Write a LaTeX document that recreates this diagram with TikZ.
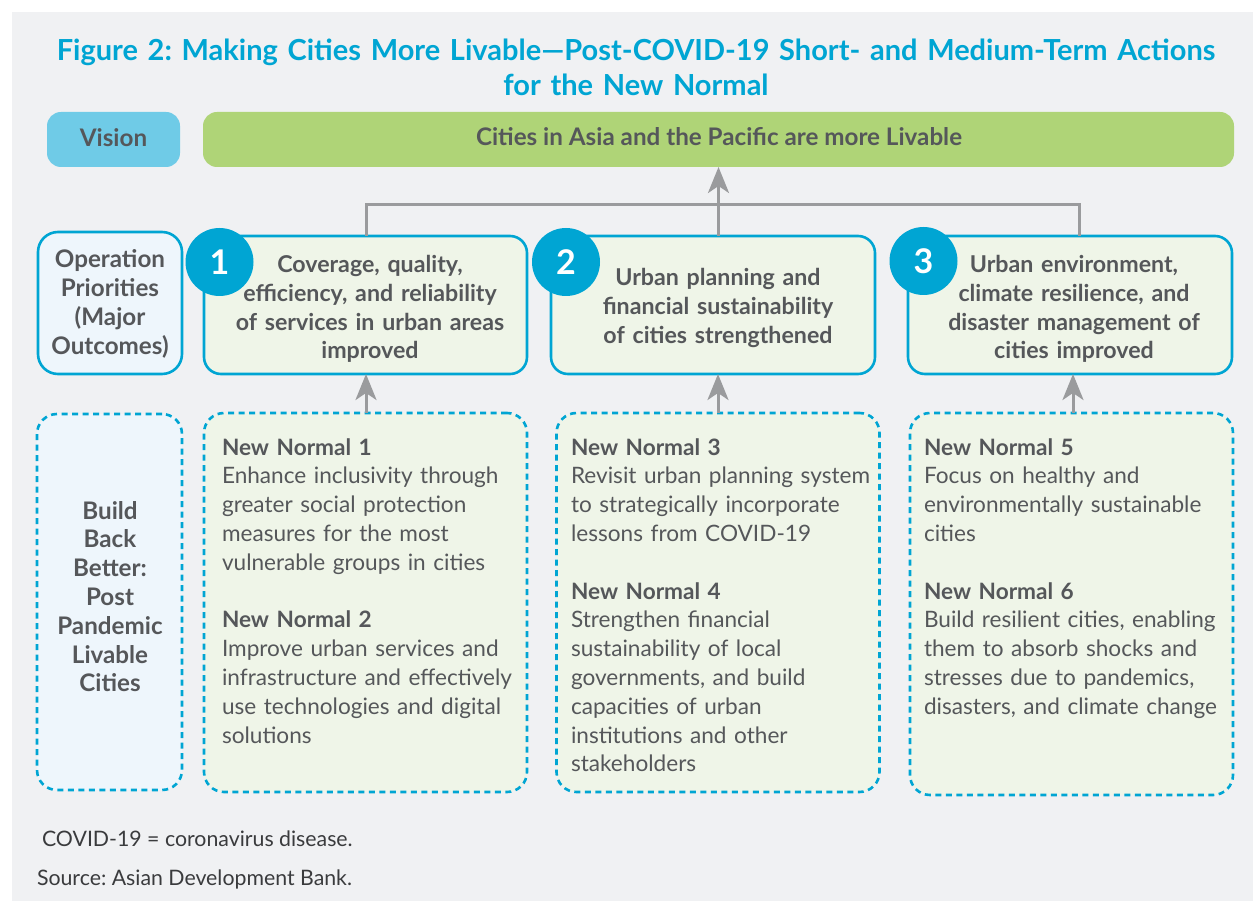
\documentclass[tikz,border=0pt]{standalone}
\usepackage{fontspec}
\setmainfont{Lato}
\usetikzlibrary{arrows.meta,calc}
\frenchspacing

\definecolor{pagegray}{HTML}{F0F1F3}
\definecolor{brandcyan}{HTML}{00A5D3}
\definecolor{visionfill}{HTML}{6FCBE7}
\definecolor{goalgreen}{HTML}{AFD477}
\definecolor{palegreen}{HTML}{EFF5E8}
\definecolor{paleblue}{HTML}{EEF6FC}
\definecolor{linkgray}{HTML}{9A9B9D}
\definecolor{inkgray}{HTML}{55575A}
\definecolor{notegray}{HTML}{3A3B3D}

\begin{document}
\begin{tikzpicture}[x=1pt,y=-1pt,
  every node/.style={inner sep=0pt, outer sep=0pt},
  pill/.style={rounded corners=14pt, minimum height=55pt},
  solidbox/.style={draw=brandcyan, line width=2.6pt, rounded corners=17pt, fill=palegreen},
  sidebox/.style={draw=brandcyan, line width=2.6pt, rounded corners=20pt, fill=paleblue},
  dotbox/.style={draw=brandcyan, line width=2.6pt, dash pattern=on 6pt off 4.5pt, rounded corners=20pt},
  numdisc/.style={circle, fill=brandcyan, minimum size=68pt, text=white,
    font=\fontsize{34}{34}\selectfont\bfseries},
  headtext/.style={text=inkgray, font=\fontsize{24.2}{28.8}\selectfont\bfseries, align=center, anchor=base},
  boxtext/.style={headtext, font=\fontsize{23.2}{28.6}\selectfont\bfseries},
  bodytext/.style={text=inkgray, font=\fontsize{22.6}{28.8}\selectfont, align=left, anchor=base west},
  link/.style={draw=linkgray, line width=3pt},
  uparrow/.style={link, -{Stealth[length=26pt,width=21pt,inset=7pt]}}
]
% canvas
\useasboundingbox (0,0) rectangle (1253,901);
\fill[white] (0,0) rectangle (1253,901);
\fill[pagegray] (12,12) rectangle (1253,901);

% title
\node[text=brandcyan, font=\fontsize{29}{35}\selectfont\bfseries, align=center,
  text width=1240pt, anchor=base] (title) at (636,61)
  {Figure 2: Making Cities More Livable---Post-COVID-19 Short- and Medium-Term Actions\\for the New Normal};

% vision row
\node[pill, fill=visionfill, minimum width=133pt] (vision) at (113.5,139.5) {};
\node[headtext] (visiontext) at (113.5,147) {Vision};
\node[pill, fill=goalgreen, minimum width=1031pt] (goal) at (718.5,139.5) {};
\node[headtext] (goaltext) at (719,146) {Cities in Asia and the Pacific are more Livable};

% operation priorities
\node[sidebox, minimum width=144pt, minimum height=142pt] (op) at (110,303) {};
\node[headtext, text width=144pt] (optext) at (110,268) {Operation\\Priorities\\(Major\\Outcomes)};

\node[solidbox, minimum width=323pt, minimum height=138pt] (p1) at (365.5,305) {};
\node[solidbox, minimum width=324pt, minimum height=138pt] (p2) at (713,305) {};
\node[solidbox, minimum width=324pt, minimum height=138pt] (p3) at (1070,305) {};

\node[boxtext, text width=300pt] (p1text) at (370,273)
  {Coverage, quality,\\efficiency, and reliability\\of services in urban areas\\improved};
\node[boxtext, text width=300pt] (p2text) at (718,286)
  {Urban planning and\\financial sustainability\\of cities strengthened};
\node[boxtext, text width=300pt] (p3text) at (1074,273)
  {Urban environment,\\climate resilience, and\\disaster management of\\cities improved};

\node[numdisc] (c1) at (219.5,262) {1};
\node[numdisc] (c2) at (566,262) {2};
\node[numdisc] (c3) at (923.5,261) {3};

% build back better row
\node[dotbox, fill=paleblue, minimum width=145pt, minimum height=376pt] (bbb) at (109.5,602) {};
\node[headtext, text width=145pt] (bbbtext) at (110,519)
  {Build\\Back\\Better:\\Post\\Pandemic\\Livable\\Cities};

\node[dotbox, fill=palegreen, minimum width=323pt, minimum height=379pt] (n1) at (365.5,602.5) {};
\node[dotbox, fill=palegreen, minimum width=323pt, minimum height=379pt] (n2) at (718,602.5) {};
\node[dotbox, fill=palegreen, minimum width=323pt, minimum height=382pt] (n3) at (1071.5,604) {};

\node[bodytext, text width=305pt] (n1text) at (222,455)
  {\textbf{New Normal 1}\\Enhance inclusivity through\\greater social protection\\measures for the most\\vulnerable groups in cities\\[28.8pt]
   \textbf{New Normal 2}\\Improve urban services and\\infrastructure and effectively\\use technologies and digital\\solutions};
\node[bodytext, text width=308pt] (n2text) at (571,455)
  {\textbf{New Normal 3}\\Revisit urban planning system\\to strategically incorporate\\lessons from COVID-19\\[28.8pt]
   \textbf{New Normal 4}\\Strengthen financial\\sustainability of local\\governments, and build\\capacities of urban\\institutions and other\\stakeholders};
\node[bodytext, text width=305pt] (n3text) at (924,455)
  {\textbf{New Normal 5}\\Focus on healthy and\\environmentally sustainable\\cities\\[28.8pt]
   \textbf{New Normal 6}\\Build resilient cities, enabling\\them to absorb shocks and\\stresses due to pandemics,\\disasters, and climate change};

% connectors
\coordinate (j1) at (366,205);
\coordinate (j3) at (1079,205);
\draw[link] (j1 |- p1.north) -- (j1) -- (j3) -- (j3 |- p3.north);
\draw[uparrow] (goal.south |- p2.north) -- (goal.south);
\draw[uparrow] (n1.north -| j1) -- (j1 |- p1.south);
\draw[uparrow] (n2.north) -- (n2.north |- p2.south);
\coordinate (j5) at (1073,0);
\draw[uparrow] (n3.north -| j5) -- (j5 |- p3.south);

% notes
\node[text=notegray, font=\fontsize{21.3}{26}\selectfont, anchor=base west] (abbrev) at (42,846) {COVID-19 = coronavirus disease.};
\node[text=notegray, font=\fontsize{21.3}{26}\selectfont, anchor=base west] (source) at (37,885) {Source: Asian Development Bank.};
\end{tikzpicture}
\end{document}
